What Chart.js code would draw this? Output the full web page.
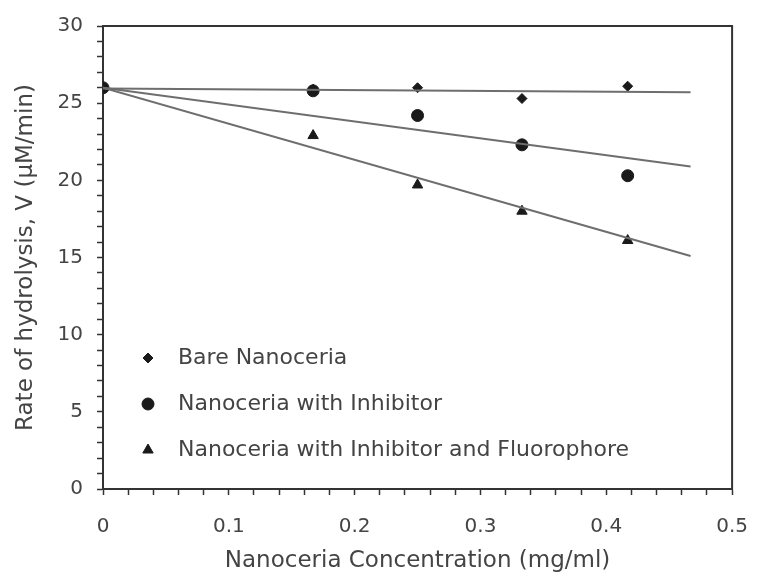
<!DOCTYPE html>
<html>
<head>
<meta charset="utf-8">
<script src="https://cdn.jsdelivr.net/npm/chart.js@4.4.1/dist/chart.umd.min.js"></script>
<style>
  html, body { margin: 0; padding: 0; background: #fff; }
  #wrap { width: 768px; height: 577px; }
</style>
</head>
<body>
<div id="wrap"><canvas id="rate"></canvas></div>
<script>
// concentrations (mg/ml)
const concentration = [0, 0.167, 0.25, 0.333, 0.417]
// rate of hydrolysis (uM/min)
const bareRate = [26.0, 25.9, 26.0, 25.3, 26.1]
const inhibitorRate = [26.0, 25.8, 24.2, 22.3, 20.3]
const fluorophoreRate = [26.0, 22.9, 19.7, 18.0, 16.1]

// linear fits, drawn between two x values
const fitX = [0, 0.467]
const bareFit = [25.95, 25.7]
const inhibitorFit = [26.0, 20.9]
const fluorophoreFit = [26.0, 15.1]

const seriesLabels = ['Bare Nanoceria', 'Nanoceria with Inhibitor', 'Nanoceria with Inhibitor and Fluorophore']

Chart.defaults.font.family = "'DejaVu Sans', sans-serif"
Chart.defaults.color = '#444'

const toPoints = (xs, ys) => xs.map((x, i) => ({ x: x, y: ys[i] }))

const markerColor = '#1a1a1a'
const fitColor = '#6e6e6e'

function fitDataset(ys) {
    return {
        data: toPoints(fitX, ys),
        showLine: true,
        borderColor: fitColor,
        borderWidth: 2,
        pointRadius: 0,
        legendItem: false
    }
}

function markerDataset(label, ys, style, radius) {
    return {
        label: label,
        data: toPoints(concentration, ys),
        pointStyle: style,
        pointRadius: radius,
        pointBackgroundColor: markerColor,
        pointBorderColor: markerColor,
        pointBorderWidth: 1,
        showLine: false,
        legendItem: true
    }
}

// legend drawn inside the plot, lower left, plus the box round the plot
const insideLegend = {
    id: 'insideLegend',
    beforeDatasetsDraw(chart) {
        const ctx = chart.ctx
        const a = chart.chartArea
        ctx.save()
        ctx.strokeStyle = '#333'
        ctx.lineWidth = 2
        ctx.strokeRect(a.left, a.top, a.right - a.left, a.bottom - a.top)
        ctx.restore()
    },
    afterDraw(chart) {
        const ctx = chart.ctx
        const area = chart.chartArea
        const items = chart.data.datasets.filter(d => d.legendItem)
        ctx.save()
        ctx.font = "22px 'DejaVu Sans'"
        ctx.textBaseline = 'middle'
        items.forEach((d, i) => {
            const y = area.bottom - 131 + i * 46
            ctx.fillStyle = markerColor
            ctx.strokeStyle = markerColor
            ctx.lineWidth = 1
            Chart.helpers.drawPoint(ctx, {
                pointStyle: d.pointStyle,
                radius: d.pointRadius,
                rotation: 0,
                borderWidth: 1
            }, area.left + 45, y)
            ctx.fillStyle = '#444'
            ctx.fillText(d.label, area.left + 75, y)
        })
        ctx.restore()
    }
}

new Chart(document.getElementById('rate'), {
    type: 'scatter',
    data: {
        datasets: [
            fitDataset(bareFit),
            fitDataset(inhibitorFit),
            fitDataset(fluorophoreFit),
            markerDataset(seriesLabels[0], bareRate, 'rectRot', 5),
            markerDataset(seriesLabels[1], inhibitorRate, 'circle', 6),
            markerDataset(seriesLabels[2], fluorophoreRate, 'triangle', 6)
        ]
    },
    options: {
        responsive: true,
        maintainAspectRatio: false,
        animation: false,
        layout: { padding: { top: 23, right: 21, left: 0, bottom: 0 } },
        plugins: {
            legend: { display: false },
            tooltip: { enabled: false }
        },
        scales: {
            x: {
                type: 'linear',
                min: 0,
                max: 0.5,
                afterFit: s => { s.height = 88 },
                border: { display: true, color: '#333', width: 2 },
                grid: { drawOnChartArea: false, drawTicks: true, tickLength: 6, color: '#333', tickWidth: 1.5 },
                ticks: {
                    stepSize: 0.02,
                    autoSkip: false,
                    maxRotation: 0,
                    padding: 20,
                    font: { size: 20 },
                    callback: v => {
                        const r = Math.round(v * 50)
                        return r % 5 === 0 ? String(r / 50) : ''
                    }
                },
                title: {
                    display: true,
                    text: 'Nanoceria Concentration (mg/ml)',
                    font: { size: 23 },
                    padding: { top: 0, bottom: 2 }
                }
            },
            y: {
                type: 'linear',
                min: 0,
                max: 30,
                afterFit: s => { s.width = 103 },
                border: { display: true, color: '#333', width: 2 },
                grid: { drawOnChartArea: false, drawTicks: true, tickLength: 6, color: '#333', tickWidth: 1.5 },
                ticks: {
                    stepSize: 1,
                    autoSkip: false,
                    padding: 14,
                    font: { size: 20 },
                    callback: v => (v % 5 === 0 ? String(v) : '')
                },
                title: {
                    display: true,
                    text: 'Rate of hydrolysis, V (µM/min)',
                    font: { size: 23 },
                    padding: { top: 12, bottom: 0 }
                }
            }
        }
    },
    plugins: [insideLegend]
});
</script>
</body>
</html>
